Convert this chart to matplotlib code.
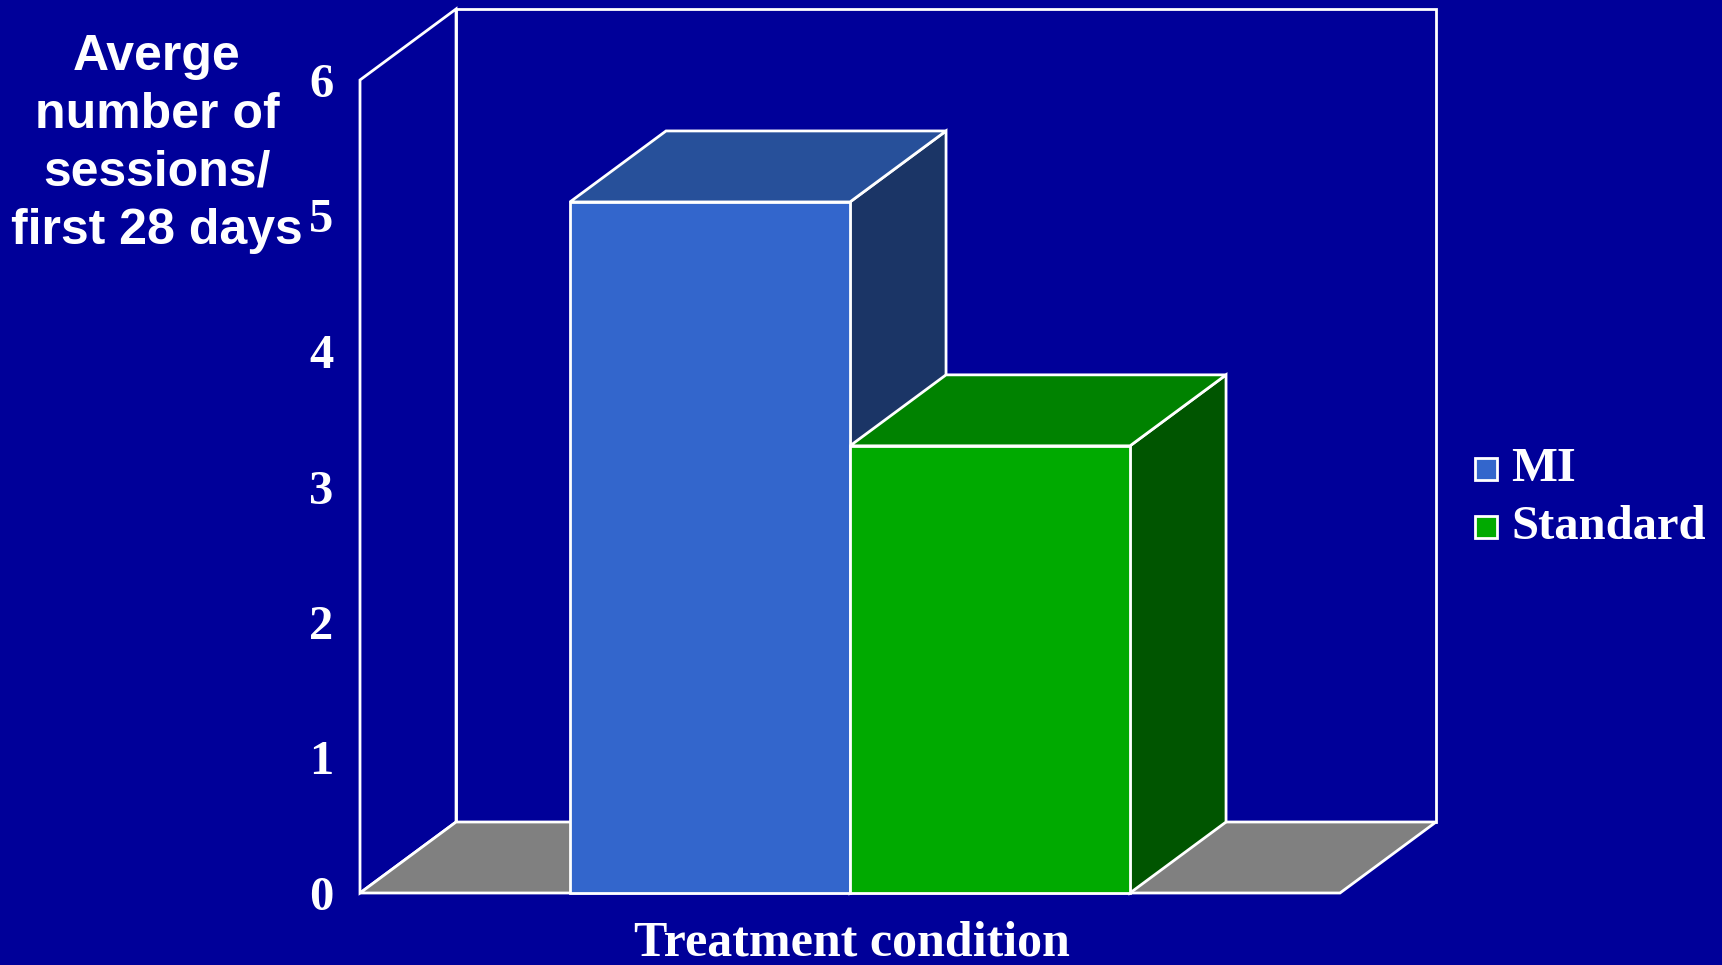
import matplotlib.pyplot as plt
from matplotlib.patches import Polygon, Rectangle

# data
groups = ['MI', 'Standard']
sessions = [5.1, 3.3]
yticks = [0, 1, 2, 3, 4, 5, 6]

front_colors = ['#3366CC', '#00AA00']
top_colors = ['#27509A', '#008200']
side_colors = ['#1B3566', '#005500']
bg = '#000099'

W, H = 1722, 965
fig = plt.figure(figsize=(W / 100, H / 100), dpi=100, facecolor=bg)

# front plane of the 3d box, in pixels
left, right, base, top = 360, 1340, 893, 80
ax = fig.add_axes([left / W, 1 - base / H, (right - left) / W, (base - top) / H])
ax.set_facecolor('none')
for s in ax.spines.values():
    s.set_visible(False)

xmax, ymax = 3.5, 6
ax.set_xlim(0, xmax)
ax.set_ylim(0, ymax)
dx, dy = 0.343, 0.524  # depth offset in data units

lw = 2.0
ec = 'white'


def poly(pts, fc, z):
    ax.add_patch(Polygon(pts, closed=True, facecolor=fc, edgecolor=ec,
                         linewidth=lw, clip_on=False, zorder=z, joinstyle='miter'))


# walls and floor
poly([(dx, dy), (xmax + dx, dy), (xmax + dx, ymax + dy), (dx, ymax + dy)], bg, 1)
poly([(0, 0), (dx, dy), (dx, ymax + dy), (0, ymax)], bg, 1)
poly([(0, 0), (xmax, 0), (xmax + dx, dy), (dx, dy)], '#808080', 2)

# bars
x0 = 0.75
for i, v in enumerate(sessions):
    a, b = x0 + i, x0 + i + 1
    z = 3 + i
    poly([(b, 0), (b + dx, dy), (b + dx, v + dy), (b, v)], side_colors[i], z)
    poly([(a, v), (b, v), (b + dx, v + dy), (a + dx, v + dy)], top_colors[i], z)
    poly([(a, 0), (b, 0), (b, v), (a, v)], front_colors[i], z)

ax.set_xticks([])
ax.set_yticks(yticks)
ax.set_yticklabels([str(t) for t in yticks])
ax.tick_params(axis='y', length=0, pad=19, colors='white', labelsize=35)
for lab in ax.get_yticklabels():
    lab.set_fontfamily('Liberation Serif')
    lab.set_fontweight('bold')


def fx(px):
    return px / W


def fy(py):
    return 1 - py / H


fig.text(fx(157), fy(144), 'Averge\nnumber of\nsessions/\nfirst 28 days',
         ha='center', va='center', color='white', fontsize=36,
         fontweight='bold', family='Liberation Sans', linespacing=1.33)

fig.text(fx(852), fy(955), 'Treatment condition', ha='center', va='baseline',
         color='white', fontsize=36, fontweight='bold', family='Liberation Serif')

# legend
for i, name in enumerate(groups):
    cy = 469 + i * 58
    sq = 22
    fig.add_artist(Rectangle((fx(1475), fy(cy + sq / 2)), sq / W, sq / H,
                             transform=fig.transFigure, facecolor=front_colors[i],
                             edgecolor='white', linewidth=2))
    fig.text(fx(1511), fy(cy + 12), name, ha='left', va='baseline', color='white',
             fontsize=35, fontweight='bold', family='Liberation Serif')

fig.savefig('out.png', dpi=100, facecolor=bg)
